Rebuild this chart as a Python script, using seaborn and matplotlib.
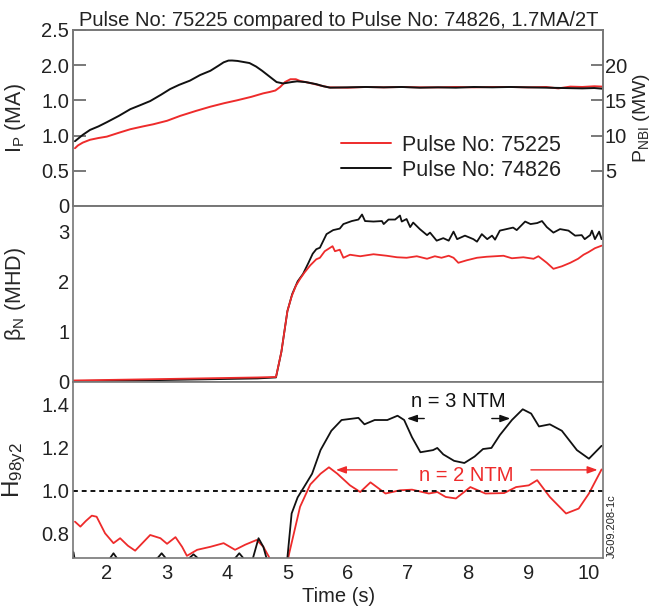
import numpy as np
import pandas as pd
import matplotlib
matplotlib.use("Agg")
import matplotlib.pyplot as plt
import seaborn as sns

# --- data ---
ip_t_74826 = [1.47, 1.6, 1.72, 1.86, 2.0, 2.2, 2.39, 2.55, 2.72, 2.9, 3.05, 3.2, 3.38, 3.55,
              3.72, 3.85, 3.94, 4.02, 4.08, 4.17, 4.27, 4.37, 4.48, 4.58, 4.7, 4.82, 4.93, 5.07,
              5.16, 5.3, 5.48, 5.6, 5.71, 6.0, 6.3, 6.6, 6.9, 7.2, 7.5, 7.8, 8.1, 8.4, 8.7,
              9.0, 9.3, 9.6, 9.9, 10.1, 10.24]
ip_v_74826 = [0.92, 1.01, 1.08, 1.13, 1.19, 1.28, 1.375, 1.43, 1.49, 1.58, 1.66, 1.72, 1.78, 1.86,
              1.92, 1.99, 2.04, 2.065, 2.066, 2.06, 2.045, 2.03, 1.98, 1.92, 1.84, 1.76, 1.74, 1.76,
              1.77, 1.76, 1.73, 1.70, 1.68, 1.685, 1.69, 1.685, 1.69, 1.68, 1.685, 1.68, 1.69, 1.685,
              1.69, 1.685, 1.68, 1.675, 1.67, 1.675, 1.665]
ip_t_75225 = [1.47, 1.52, 1.6, 1.72, 1.86, 2.0, 2.2, 2.39, 2.6, 2.77, 3.0, 3.22, 3.48, 3.72, 3.95,
              4.16, 4.4, 4.6, 4.71, 4.8, 4.88, 4.96, 5.05, 5.14, 5.21, 5.3, 5.41, 5.55, 5.69, 6.0,
              6.3, 6.6, 6.9, 7.2, 7.5, 7.8, 8.1, 8.4, 8.7, 9.0, 9.3, 9.5, 9.7, 9.9, 10.1, 10.24]
ip_v_75225 = [0.82, 0.86, 0.9, 0.94, 0.965, 0.985, 1.04, 1.09, 1.13, 1.16, 1.21, 1.28, 1.35, 1.41, 1.46,
              1.50, 1.55, 1.60, 1.62, 1.64, 1.69, 1.76, 1.80, 1.80, 1.775, 1.76, 1.74, 1.71, 1.685, 1.68,
              1.69, 1.685, 1.69, 1.685, 1.685, 1.69, 1.685, 1.69, 1.69, 1.685, 1.69, 1.67, 1.695, 1.69, 1.70, 1.695]

bn_t_74826 = [1.445, 1.5, 2.5, 3.5, 4.5, 4.81, 4.9, 5.0, 5.08, 5.17, 5.26, 5.35, 5.42, 5.48, 5.54, 5.65,
              5.76, 5.87, 5.93, 6.07, 6.18, 6.24, 6.29, 6.43, 6.57, 6.6, 6.68, 6.79, 6.87, 6.9,
              6.98, 7.04, 7.09, 7.2, 7.32, 7.37, 7.48, 7.59, 7.68, 7.76, 7.82, 7.95, 8.09, 8.15,
              8.23, 8.32, 8.4, 8.45, 8.53, 8.64, 8.75, 8.81, 8.95, 9.04, 9.15, 9.23, 9.31, 9.42,
              9.53, 9.67, 9.78, 9.89, 9.94, 10.03, 10.06, 10.11, 10.18, 10.22]
bn_v_74826 = [0.0, 0.02, 0.03, 0.05, 0.07, 0.09, 0.6, 1.41, 1.75, 2.0, 2.15, 2.37, 2.55, 2.64, 2.67, 2.94,
              3.02, 3.05, 3.14, 3.2, 3.23, 3.33, 3.2, 3.19, 3.2, 3.14, 3.23, 3.23, 3.31, 3.19,
              3.24, 3.08, 3.17, 3.04, 2.92, 2.97, 2.81, 2.86, 2.81, 2.99, 2.84, 2.91, 2.84, 2.79,
              2.94, 2.84, 2.91, 2.83, 3.01, 3.04, 3.07, 3.02, 3.19, 3.14, 3.16, 3.2, 3.08, 2.97,
              3.04, 3.01, 2.91, 2.92, 2.84, 2.92, 3.01, 2.84, 2.99, 2.84]
bn_t_75225 = [1.445, 2.5, 3.5, 4.5, 4.81, 4.9, 5.0, 5.07, 5.14, 5.21, 5.28, 5.38, 5.48, 5.54, 5.62,
              5.75, 5.79, 5.87, 5.93, 6.04, 6.21, 6.43, 6.65, 6.82, 6.98, 7.15, 7.32, 7.45,
              7.56, 7.68, 7.76, 7.84, 7.98, 8.15, 8.31, 8.59, 8.73, 8.92, 9.09, 9.17, 9.31,
              9.42, 9.56, 9.7, 9.83, 9.92, 10.0, 10.11, 10.22]
bn_v_75225 = [0.03, 0.05, 0.07, 0.09, 0.1, 0.6, 1.41, 1.7, 1.91, 2.05, 2.17, 2.32, 2.44, 2.47, 2.6,
              2.70, 2.60, 2.63, 2.47, 2.53, 2.50, 2.54, 2.51, 2.48, 2.47, 2.50, 2.45, 2.50,
              2.47, 2.51, 2.47, 2.37, 2.42, 2.47, 2.49, 2.51, 2.46, 2.48, 2.45, 2.50, 2.37,
              2.25, 2.30, 2.37, 2.45, 2.53, 2.58, 2.66, 2.71]

h_t_74826 = [1.445, 1.46, 1.5, 2.0, 2.06, 2.11, 2.16, 2.3, 2.85, 2.91, 2.97, 3.1, 3.38, 3.44, 3.5,
             3.7, 4.14, 4.2, 4.26, 4.35, 4.43, 4.52, 4.6, 4.68, 4.8, 4.95, 5.0, 5.07, 5.17, 5.28,
             5.41, 5.55, 5.73, 5.9, 6.18, 6.28, 6.45, 6.66, 6.83, 6.94, 7.07, 7.21, 7.42, 7.49,
             7.59, 7.77, 7.94, 8.11, 8.25, 8.39, 8.53, 8.73, 8.91, 9.05, 9.18, 9.36, 9.56, 9.81,
             10.01, 10.22]
h_v_74826 = [0.715, 0.69, 0.6, 0.62, 0.69, 0.71, 0.69, 0.6, 0.69, 0.71, 0.69, 0.6, 0.69, 0.705, 0.69,
             0.6, 0.69, 0.71, 0.69, 0.6, 0.69, 0.78, 0.74, 0.66, 0.55, 0.6, 0.69, 0.895, 0.97, 1.02,
             1.08, 1.19, 1.28, 1.33, 1.34, 1.31, 1.33, 1.33, 1.35, 1.33, 1.25, 1.18, 1.19, 1.20,
             1.17, 1.14, 1.13, 1.16, 1.195, 1.20, 1.26, 1.33, 1.38, 1.36, 1.30, 1.31, 1.28, 1.19,
             1.15, 1.21]
h_t_75225 = [1.47, 1.56, 1.65, 1.75, 1.83, 1.97, 2.11, 2.22, 2.35, 2.47, 2.6, 2.72, 2.89, 3.0, 3.14,
             3.25, 3.33, 3.5, 3.72, 3.94, 4.13, 4.3, 4.49, 4.6, 4.69, 4.8, 4.95, 5.03, 5.21, 5.38,
             5.55, 5.69, 5.83, 6.04, 6.21, 6.38, 6.63, 6.87, 7.07, 7.35, 7.49, 7.63, 7.8, 8.04,
             8.29, 8.6, 8.8, 9.01, 9.15, 9.36, 9.63, 9.84, 10.01, 10.22]
h_v_75225 = [0.857, 0.834, 0.86, 0.885, 0.88, 0.803, 0.757, 0.78, 0.745, 0.722, 0.76, 0.795, 0.78, 0.754, 0.785,
             0.74, 0.698, 0.726, 0.74, 0.757, 0.726, 0.75, 0.772, 0.74, 0.695, 0.6, 0.6, 0.71, 0.926, 1.03,
             1.08, 1.11, 1.08, 1.026, 0.995, 1.04, 0.988, 1.003, 1.006, 0.988, 0.995, 0.972, 0.965, 1.018,
             0.988, 0.99, 1.018, 1.026, 1.05, 0.972, 0.895, 0.918, 0.988, 1.10]

time_ticks = [2, 3, 4, 5, 6, 7, 8, 9, 10]
ip_ticks = [0, 0.5, 1.0, 1.5, 2.0, 2.5]
ip_ticklabels = ["0", "0.5", "1.0", "1.0", "2.0", "2.5"]
pnbi_ticks = [5, 10, 15, 20]
bn_ticks = [0, 1, 2, 3]
h_ticks = [0.8, 1.0, 1.2, 1.4]

RED = "#ee2b2b"
BLACK = "#111111"
TXT = "#222222"
GREY = "#777777"

sns.set_theme(style="white")
plt.rcParams["font.family"] = ["Liberation Sans", "DejaVu Sans"]
plt.rcParams["mathtext.fontset"] = "custom"
plt.rcParams["mathtext.rm"] = "Liberation Sans"
plt.rcParams["mathtext.it"] = "Liberation Sans"
plt.rcParams["text.color"] = TXT
FS = 14.5

fig = plt.figure(figsize=(6.53, 6.15), dpi=100)
left, width = 0.1125, 0.8115
h = 0.2862
ax1 = fig.add_axes([left, 0.0927 + 2 * h, width, h])
ax2 = fig.add_axes([left, 0.0927 + h, width, h], sharex=ax1)
ax3 = fig.add_axes([left, 0.0927, width, h], sharex=ax1)

def style(ax):
    for s in ax.spines.values():
        s.set_color(GREY)
        s.set_linewidth(1.2)
    ax.tick_params(axis="both", direction="in", length=9, width=1.1, color="#555555",
                   labelsize=FS, labelcolor=TXT, pad=3)
    ax.set_xlabel("")
    ax.set_ylabel("")

# top panel: plasma current
sns.lineplot(x=ip_t_75225, y=ip_v_75225, ax=ax1, color=RED, lw=1.4, label="Pulse No: 75225")
sns.lineplot(x=ip_t_74826, y=ip_v_74826, ax=ax1, color=BLACK, lw=1.4, label="Pulse No: 74826")
style(ax1)
ax1.set_ylim(0, 2.5)
ax1.set_yticks(ip_ticks)
ax1.set_yticklabels(ip_ticklabels)
ax1.tick_params(axis="x", length=0, labelbottom=False)
ax1.set_ylabel("I$_\\mathrm{P}$ (MA)", fontsize=FS + 1)
ax1.legend(loc="upper left", bbox_to_anchor=(0.505, 0.405), frameon=False, fontsize=FS + 1,
           handlelength=2.3, handletextpad=0.55, labelspacing=0.2, borderpad=0, borderaxespad=0)
for t in ax1.get_legend().get_texts():
    t.set_color(TXT)
ax1.set_title("Pulse No: 75225 compared to Pulse No: 74826, 1.7MA/2T", fontsize=FS, color=TXT, pad=3)

axr = ax1.twinx()
style(axr)
axr.set_ylim(0, 25)
axr.set_yticks(pnbi_ticks)
axr.tick_params(axis="y", direction="in", length=9, pad=1)
axr.set_ylabel("P$_\\mathrm{NBI}$ (MW)", fontsize=FS - 0.5, rotation=90)
axr.yaxis.set_label_coords(1.052, 0.5)

# middle panel: normalised beta
sns.lineplot(x=bn_t_74826, y=bn_v_74826, ax=ax2, color=BLACK, lw=1.3)
sns.lineplot(x=bn_t_75225, y=bn_v_75225, ax=ax2, color=RED, lw=1.3)
style(ax2)
ax2.set_ylim(0, 3.5)
ax2.set_yticks(bn_ticks)
ax2.tick_params(axis="x", length=0, labelbottom=False)
ax2.set_ylabel("β$_\\mathrm{N}$ (MHD)", fontsize=FS + 1)

# bottom panel: confinement factor
sns.lineplot(x=h_t_75225, y=h_v_75225, ax=ax3, color=RED, lw=1.3)
sns.lineplot(x=h_t_74826, y=h_v_74826, ax=ax3, color=BLACK, lw=1.3)
ax3.axhline(1.0, color=BLACK, lw=1.4, ls=(0, (2.5, 2)))
style(ax3)
ax3.set_ylim(0.688, 1.507)
ax3.set_yticks(h_ticks)
ax3.set_yticklabels(["0.8", "1.0", "1.2", "1.4"])
ax3.set_xlim(1.445, 10.25)
ax3.set_xticks(time_ticks)
ax3.tick_params(axis="x", length=12, pad=4)
ax3.set_xlabel("Time (s)", fontsize=FS, color=TXT, labelpad=3)
ax3.set_ylabel("H$_\\mathrm{98y2}$", fontsize=FS + 3)

for ax in (ax1, ax2, ax3):
    ax.yaxis.set_label_coords(-0.085, 0.5)

ax3.text(7.84, 1.418, "n = 3 NTM", color=BLACK, fontsize=FS, ha="center", va="center")
arrow_k = dict(arrowstyle="-|>,head_length=0.5,head_width=0.18", color=BLACK, lw=1.0)
ax3.annotate("", xy=(6.94, 1.337), xytext=(7.32, 1.337), arrowprops=arrow_k)
ax3.annotate("", xy=(8.75, 1.337), xytext=(8.35, 1.337), arrowprops=arrow_k)
ax3.text(7.97, 1.072, "n = 2 NTM", color=RED, fontsize=FS, ha="center", va="center")
arrow_r = dict(arrowstyle="-|>,head_length=0.5,head_width=0.18", color=RED, lw=1.0)
ax3.annotate("", xy=(5.76, 1.098), xytext=(6.87, 1.098), arrowprops=arrow_r)
ax3.annotate("", xy=(10.2, 1.098), xytext=(9.0, 1.098), arrowprops=arrow_r)

fig.text(0.9375, 0.093, "JG09.208-1c", rotation=90, fontsize=8, color=TXT, ha="center", va="bottom")

fig.savefig("out.png", dpi=100)
